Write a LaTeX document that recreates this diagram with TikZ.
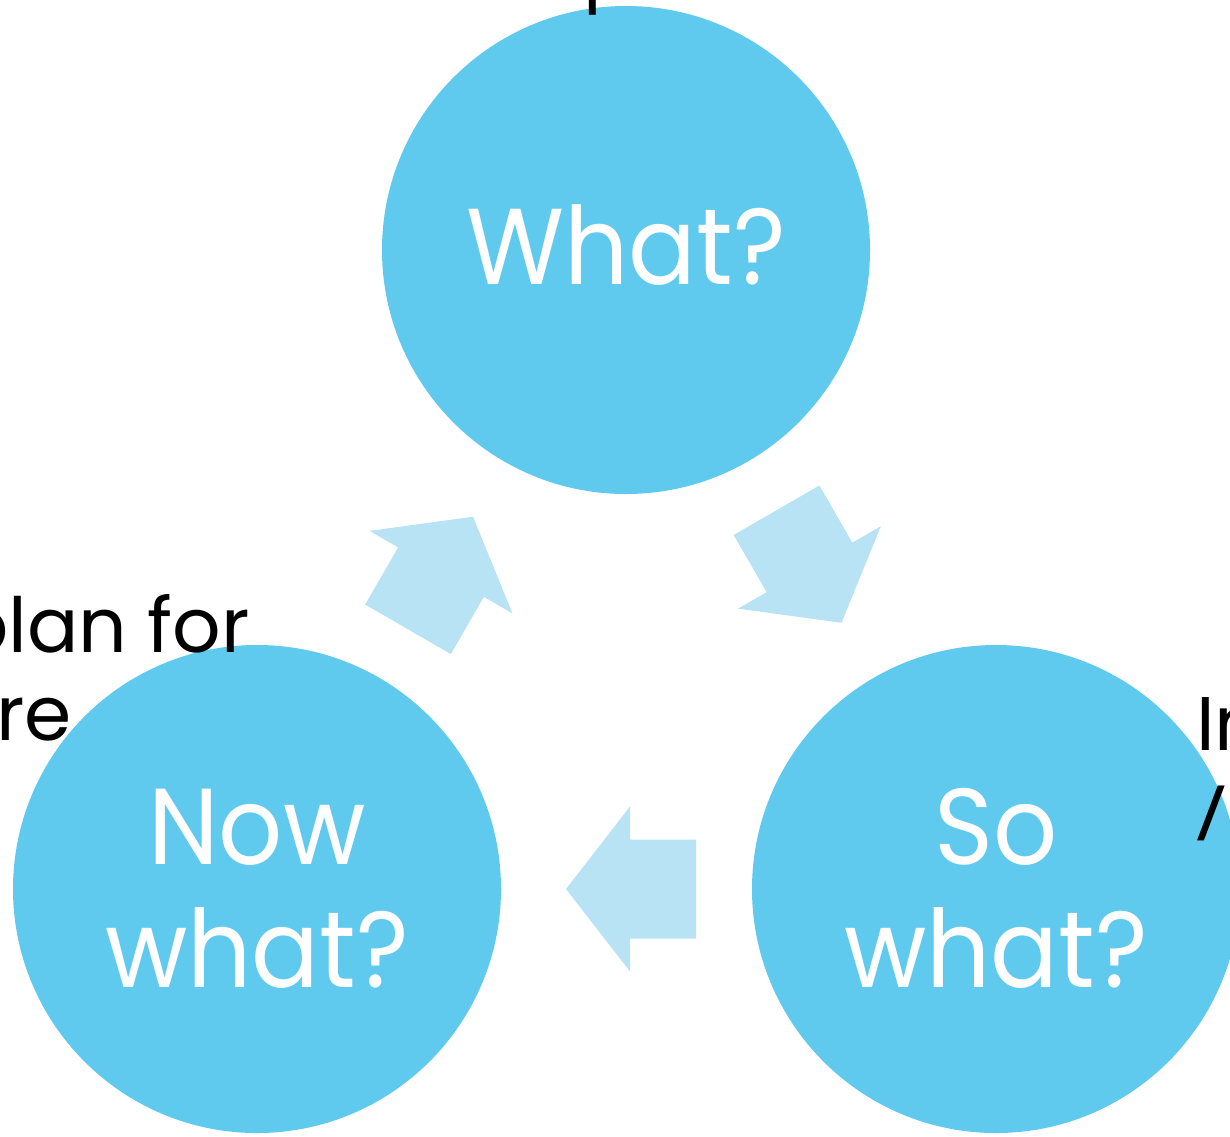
\documentclass[tikz,border=0pt]{standalone}
\usepackage{fontspec}
\setmainfont{Poppins}
\newfontfamily\bubblefont[FakeStretch=0.93]{Poppins}
\definecolor{bubblecol}{RGB}{95,201,238}
\definecolor{arrowcol}{RGB}{183,227,245}
\newcommand{\uplift}[1]{\raisebox{2pt}{#1}}
\begin{document}
\begin{tikzpicture}[x=1pt,y=-1pt,
  bubble/.style={circle,fill=bubblecol,minimum size=488pt,inner sep=0pt,text=white,align=center,
    font=\bubblefont\fontsize{108}{123}\selectfont},
  note/.style={text=black,inner sep=0pt,font=\fontsize{76}{88}\selectfont},
  flowarrow/.style={fill=arrowcol}]
\useasboundingbox (0,0) rectangle (1230,1136);
\clip (0,0) rectangle (1230,1136);
% bubbles
\node[bubble] (what) at (626,250) {\raisebox{10pt}{What?}};
\node[bubble] (sowhat) at (996,889) {\uplift{So}\\\uplift{what?}};
\node[bubble] (nowwhat) at (257,889) {\uplift{Now}\\\uplift{what?}};
% arrows
\begin{scope}[shift={(809,566.5)},rotate=-60]
  \fill[flowarrow] (65,0) -- (1,82.5) -- (1,49.5) -- (-65,49.5) -- (-65,-49.5) -- (1,-49.5) -- (1,-82.5) -- cycle;
\end{scope}
\begin{scope}[shift={(631,889)},rotate=180]
  \fill[flowarrow] (65,0) -- (1,82.5) -- (1,49.5) -- (-65,49.5) -- (-65,-49.5) -- (1,-49.5) -- (1,-82.5) -- cycle;
\end{scope}
\begin{scope}[shift={(440.5,573)},rotate=60]
  \fill[flowarrow] (65,0) -- (1,82.5) -- (1,49.5) -- (-65,49.5) -- (-65,-49.5) -- (1,-49.5) -- (1,-82.5) -- cycle;
\end{scope}
% partially visible notes
\node[note,anchor=base west] (topnote) at (583,-5) {p};
\node[note,anchor=base east] (plan) at (250,652) {plan for};
\node[note,anchor=base east] (re) at (72,740) {re};
\node[note,anchor=base west] (inote) at (1196,750) {In};
\node[note,anchor=base west] (slash) at (1193,832) {\scalebox{1}[0.65]{/}};
\end{tikzpicture}
\end{document}
